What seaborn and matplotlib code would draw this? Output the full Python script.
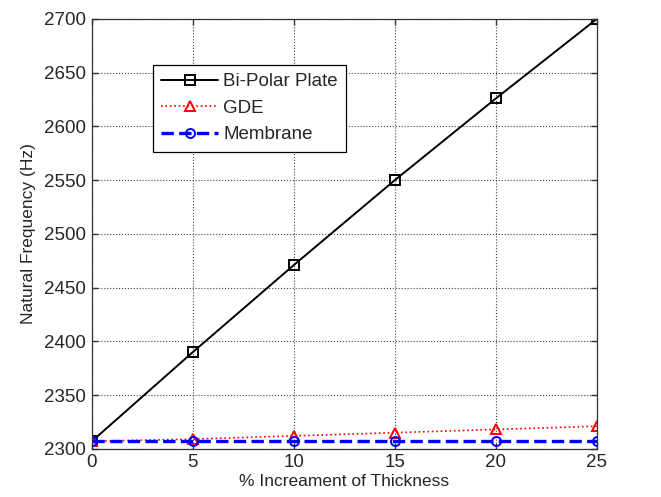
import pandas as pd
import matplotlib.pyplot as plt
import seaborn as sns

## Data
thickness = [0, 5, 10, 15, 20, 25]
bipolar = [2307, 2390, 2471, 2550, 2626, 2700]
gde = [2307, 2309, 2312, 2315, 2318, 2321]
membrane = [2307, 2307, 2307, 2307, 2307, 2307]

df = pd.DataFrame({'thick': thickness, 'bipolar': bipolar, 'gde': gde, 'membrane': membrane})

## Style
sns.set_theme(context='paper', style='ticks', rc={
    'xtick.direction': 'in', 'ytick.direction': 'in',
    'xtick.top': True, 'ytick.right': True,
    'axes.edgecolor': '#333333', 'axes.linewidth': 0.9,
})
plt.rcParams['font.family'] = ['Liberation Sans', 'DejaVu Sans']

fig = plt.figure(figsize=(6.61, 4.97), dpi=100)
ax = fig.add_axes([0.139, 0.097, 0.764, 0.865])

sns.lineplot(ax=ax, data=df, x='thick', y='bipolar', color='black', linestyle='-', linewidth=1.4,
             marker='s', markersize=7.5, markerfacecolor='none', markeredgecolor='black',
             markeredgewidth=1.4, label='Bi-Polar Plate')
sns.lineplot(ax=ax, data=df, x='thick', y='gde', color='red', linestyle=':', linewidth=1.2,
             marker='^', markersize=7.5, markerfacecolor='none', markeredgecolor='red',
             markeredgewidth=1.4, label='GDE')
sns.lineplot(ax=ax, data=df, x='thick', y='membrane', color='blue', linestyle='--', linewidth=2.4,
             dashes=(3, 2), marker='o', markersize=6.5, markerfacecolor='none', markeredgecolor='blue',
             markeredgewidth=1.4, label='Membrane')

ax.set_xlim(0, 25)
ax.set_ylim(2300, 2700)
ax.set_xticks(thickness)
ax.set_yticks(range(2300, 2701, 50))
ax.tick_params(labelsize=13.5, length=4, pad=4, color='#333333')
ax.grid(True, color='#444444', linestyle=':', linewidth=0.8)

ax.set_xlabel('% Increament of Thickness', fontsize=12.5, labelpad=2)
ax.set_ylabel('Natural Frequency (Hz)', fontsize=12.5, labelpad=6)

leg = ax.legend(loc='upper left', bbox_to_anchor=(0.121, 0.893), borderaxespad=0, fontsize=13.5,
                frameon=True, fancybox=False, framealpha=1, edgecolor='black', borderpad=0.45,
                handlelength=3.0, labelspacing=0.5, handletextpad=0.3)
leg.get_frame().set_linewidth(0.9)

plt.savefig('out.png', dpi=100)
